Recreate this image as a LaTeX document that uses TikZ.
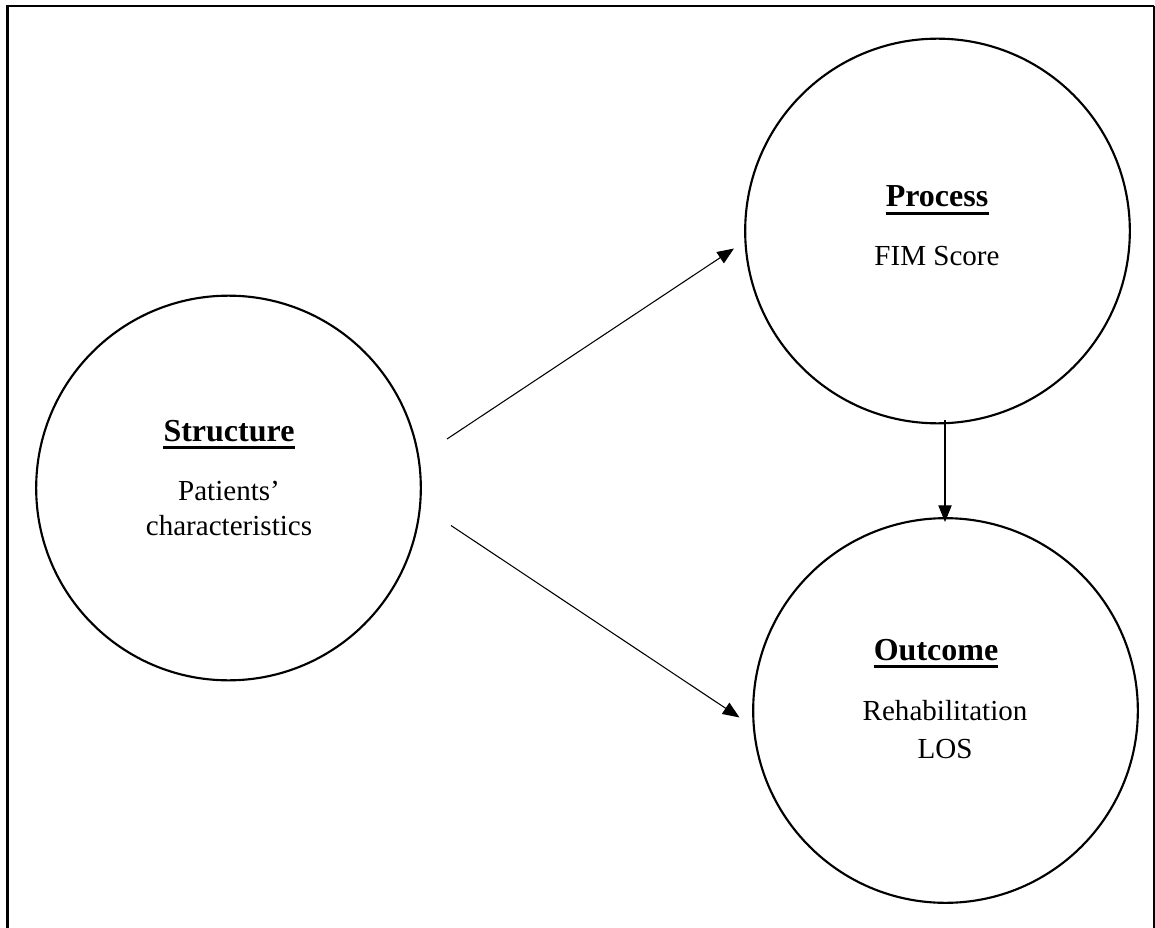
\documentclass[tikz,border=0pt]{standalone}
\usepackage{fontspec}
\setmainfont{Liberation Serif}
\usetikzlibrary{arrows.meta}
\begin{document}
\begin{tikzpicture}[x=0.75pt,y=-0.75pt,
  ring/.style={draw,circle,line width=1.6pt,minimum size=288.5pt,inner sep=0pt},
  headtext/.style={inner sep=0pt,anchor=base,font=\fontsize{24}{28}\selectfont\bfseries},
  bodytext/.style={inner sep=0pt,anchor=base,font=\fontsize{21.8}{26}\selectfont},
  uline/.style={line width=2.4pt},
  arr/.style={line width=0.8pt,-{Triangle[length=12.5pt,width=10pt]}},
  framel/.style={line width=1.8pt},
  framer/.style={line width=0.9pt}]
\useasboundingbox (0,0) rectangle (1155,927);
% frame (bottom edge lies outside the page)
\coordinate (fbl) at (7.5,940);
\coordinate (ftl) at (7.5,6);
\coordinate (ftr) at (1154,6);
\coordinate (fbr) at (1154,940);
\draw[framel] (fbl) -- (ftl) -- (ftr);
\draw[framer] (ftr) -- (fbr);
% circles
\node[ring] (S) at (228.5,488) {};
\node[ring] (P) at (937.5,231) {};
\node[ring] (O) at (945.5,710.5) {};
% texts
\node[headtext] (St) at (229,441) {Structure};
\node[bodytext] (S1) at (229,500) {Patients’};
\node[bodytext] (S2) at (229,535) {characteristics};
\node[headtext] (Pt) at (937,207) {Process};
\node[bodytext] (P1) at (937,265) {FIM Score};
\node[headtext] (Ot) at (936,660) {Outcome};
\node[bodytext] (O1) at (945,720) {Rehabilitation};
\node[bodytext] (O2) at (945,758) {LOS};
% underlines
\foreach \t in {St,Pt,Ot}{
  \draw[uline] ([yshift=-4.6pt]\t.base west) -- ([yshift=-4.6pt]\t.base east);
}
% connector ends
\coordinate (s1) at (447,439);
\coordinate (p1) at (734,248.5);
\coordinate (s2) at (451,525.5);
\coordinate (o1) at (739.5,717.5);
\coordinate (p2) at (945,420);
\coordinate (o2) at (945,522);
\draw[arr] (s1) -- (p1);
\draw[arr] (s2) -- (o1);
\draw[arr] (p2) -- (o2);
\end{tikzpicture}
\end{document}
